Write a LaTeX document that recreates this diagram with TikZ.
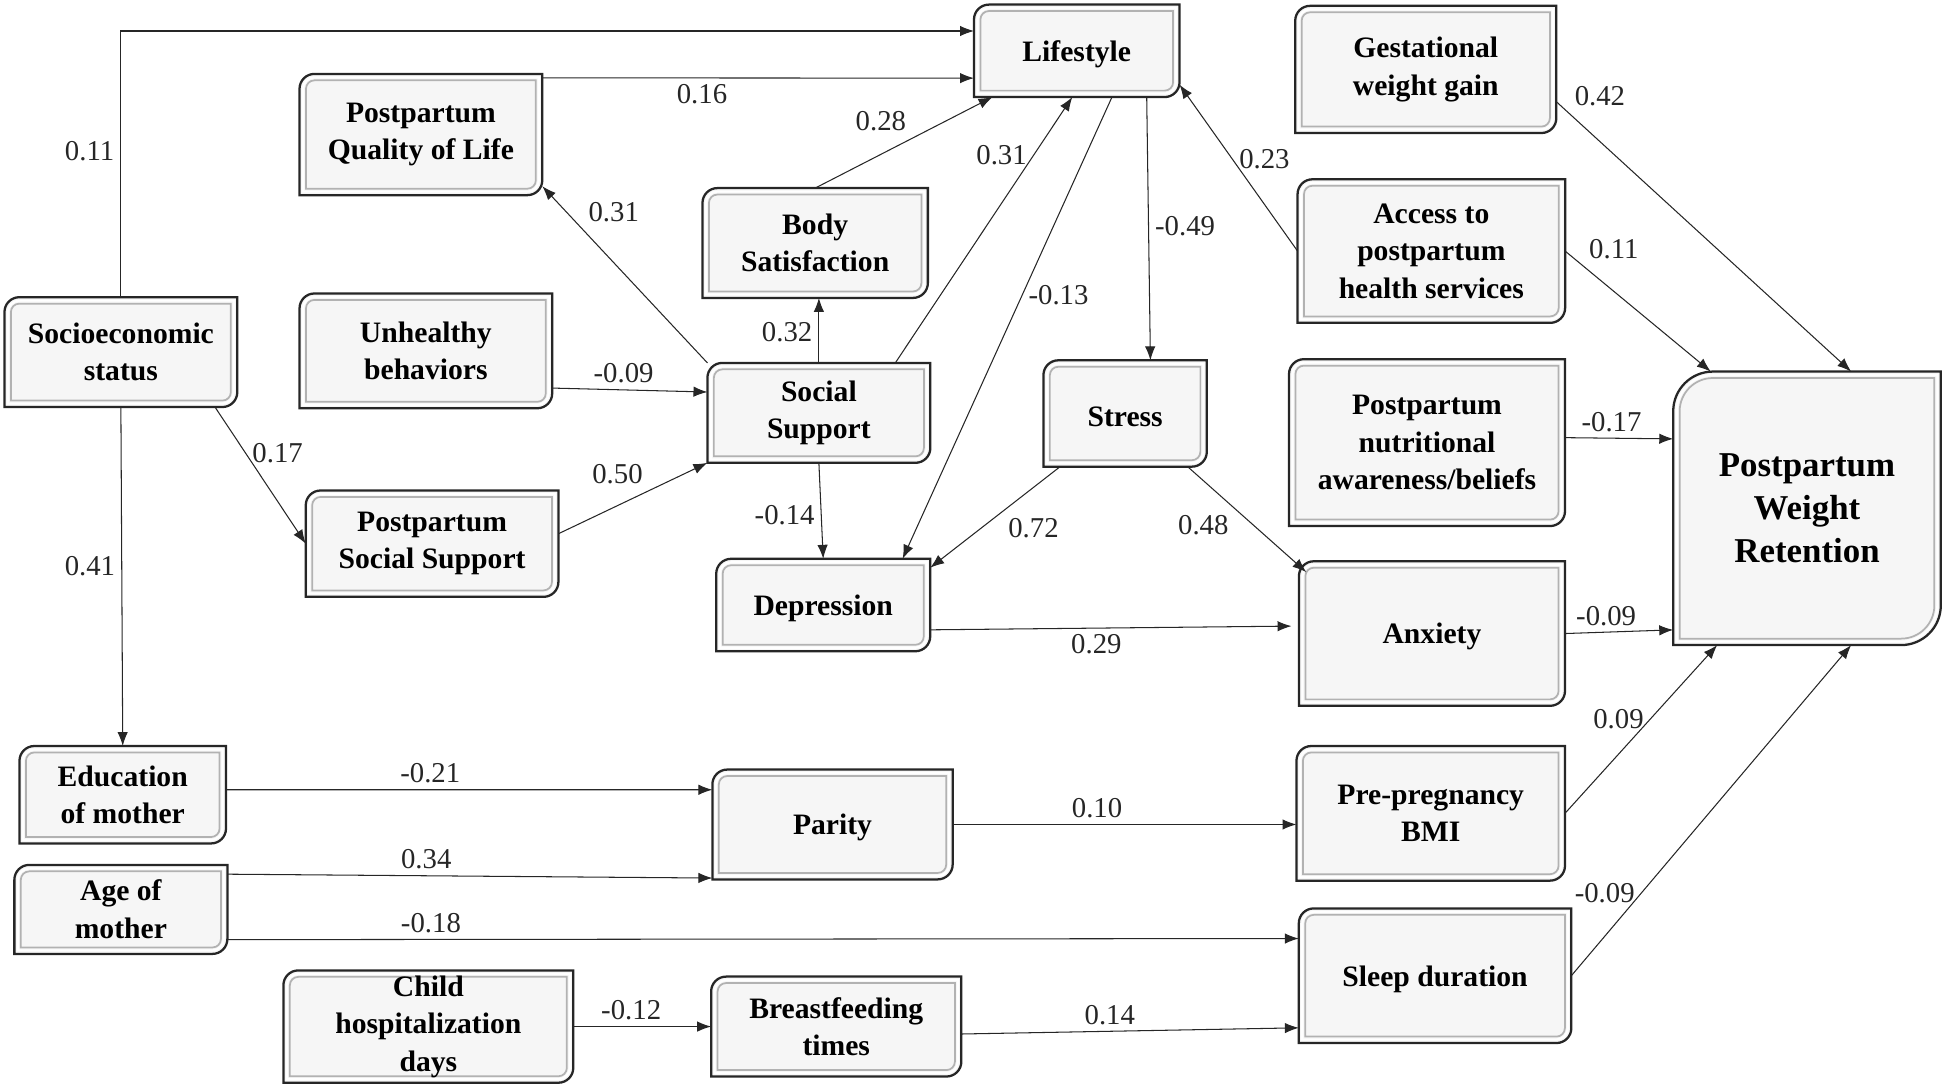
\documentclass[tikz,border=0pt]{standalone}
\usepackage{fontspec}
\setmainfont{Liberation Serif}
\usetikzlibrary{arrows.meta,backgrounds}

% box outline: sharp top-right/bottom-left, rounded top-left/bottom-right
\tikzset{
  bevel/.style n args={3}{insert path={
    ([shift={({-#2},{-#2})}]#1.north east) --
    ([shift={({-#2},{#2+(#3)})}]#1.south east) arc[start angle=0,end angle=-90,radius={#3}] --
    ([shift={({#2},{#2})}]#1.south west) --
    ([shift={({#2},{-#2-(#3)})}]#1.north west) arc[start angle=180,end angle=90,radius={#3}] -- cycle}}
}

\begin{document}
\begin{tikzpicture}[
  x=0.025cm, y=-0.025cm,
  >={Latex[length=8pt,width=6pt]},   % default arrow tip
  varbox/.style={align=center, inner sep=2pt, font=\bfseries\fontsize{17}{21.5}\selectfont,
                 execute at begin node=\rule{0pt}{15.5pt}},
  lbl/.style={font=\fontsize{16.5}{19}\selectfont, inner sep=3.5pt},
  link/.style={->, line width=0.6pt, black!85}
]
\useasboundingbox (0,0) rectangle (1568,877);

% Nodes
\node[varbox, minimum width=4.13cm, minimum height=1.85cm] (life)   at (868.5,41)   {Lifestyle};
\node[varbox, minimum width=5.25cm, minimum height=2.55cm] (gwg)    at (1150,56)    {Gestational\\weight gain};
\node[varbox, minimum width=4.88cm, minimum height=2.43cm] (pqol)   at (339.5,108.5){Postpartum\\Quality of Life};
\node[varbox, minimum width=4.53cm, minimum height=2.2cm]  (body)   at (657.5,196)  {Body\\Satisfaction};
\node[varbox, minimum width=5.38cm, minimum height=2.88cm] (access) at (1154.5,202.5){Access to\\postpartum\\health services};
\node[varbox, minimum width=4.68cm, minimum height=2.2cm]  (ses)    at (97.5,284)   {Socioeconomic\\status};
\node[varbox, minimum width=5.08cm, minimum height=2.3cm]  (unh)    at (343.5,283)  {Unhealthy\\behaviors};
\node[varbox, minimum width=4.48cm, minimum height=2.0cm]  (ss)     at (660.5,333)  {Social\\Support};
\node[varbox, minimum width=3.28cm, minimum height=2.13cm] (stress) at (907.5,333.5){Stress};
\node[varbox, minimum width=5.55cm, minimum height=3.35cm] (nut)    at (1151,357)   {Postpartum\\nutritional\\awareness/beliefs};
\node[varbox, font=\bfseries\fontsize{20}{24.5}\selectfont,
      minimum width=5.38cm, minimum height=5.5cm]          (pwr)    at (1457.5,410) {Postpartum\\Weight\\Retention};
\node[varbox, minimum width=5.08cm, minimum height=2.13cm] (pss)    at (348.5,438.5){Postpartum\\Social Support};
\node[varbox, minimum width=4.3cm,  minimum height=1.85cm] (dep)    at (664,488)    {Depression};
\node[varbox, minimum width=5.35cm, minimum height=2.9cm]  (anx)    at (1155,511)   {Anxiety};
\node[varbox, minimum width=4.15cm, minimum height=1.95cm] (edu)    at (99,641)     {Education\\of mother};
\node[varbox, minimum width=4.83cm, minimum height=2.2cm]  (par)    at (671.5,665)  {Parity};
\node[varbox, minimum width=5.4cm,  minimum height=2.7cm]  (bmi)    at (1154,656)   {Pre-pregnancy\\BMI};
\node[varbox, minimum width=4.28cm, minimum height=1.78cm] (age)    at (97.5,733.5) {Age of\\mother};
\node[varbox, minimum width=5.48cm, minimum height=2.7cm]  (sleep)  at (1157.5,787) {Sleep duration};
\node[varbox, minimum width=5.83cm, minimum height=2.25cm] (child)  at (345.5,828)  {Child\\hospitalization\\days};
\node[varbox, minimum width=5.03cm, minimum height=2.0cm]  (bf)     at (674.5,828)  {Breastfeeding\\times};

% Box outlines
\begin{scope}[on background layer]
\foreach \n/\r in {life/0.3cm, gwg/0.3cm, pqol/0.3cm, body/0.3cm, access/0.3cm, ses/0.3cm,
                   unh/0.3cm, ss/0.3cm, stress/0.3cm, nut/0.3cm, pwr/0.8cm, pss/0.3cm,
                   dep/0.3cm, anx/0.3cm, edu/0.3cm, par/0.3cm, bmi/0.3cm, age/0.3cm,
                   sleep/0.3cm, child/0.3cm, bf/0.3cm}
{
  \path[fill=gray!7, draw=black!85, line width=1.3pt, bevel={\n}{0cm}{\r}];
  \path[draw=white, line width=1.2pt, bevel={\n}{0.07cm}{\r-0.07cm}];
  \path[draw=gray!60, line width=1pt, bevel={\n}{0.13cm}{\r-0.13cm}];
}
\end{scope}

% Edges
\draw[link] (ses.north) |- node[lbl, pos=0.275, left]{0.11} ([yshift=0.4cm]life.west);
\draw[link] ([yshift=-0.08cm]pqol.north east) -- node[lbl, pos=0.37, below]{0.16} ([yshift=-0.55cm]life.west);
\draw[link] (body.north) -- node[lbl, pos=0.55, above left]{0.28} ([xshift=-1.7cm]life.south);
\draw[link] ([xshift=1.54cm]ss.north) -- node[lbl, pos=0.78, left]{0.31} ([xshift=-0.09cm]life.south);
\draw[link] ([xshift=0.71cm]life.south) -- node[lbl, pos=0.43, right]{-0.13} ([xshift=1.6cm]dep.north);
\draw[link] ([xshift=1.41cm]life.south) -- node[lbl, pos=0.49, right]{-0.49} ([xshift=0.51cm]stress.north);
\draw[link] (access.west) -- node[lbl, pos=0.55, right]{0.23} ([yshift=0.25cm]life.south east);
\draw[link] (ss.north west) -- node[lbl, pos=0.76, above right]{0.31} ([yshift=0.18cm]pqol.south east);
\draw[link] (ss.north) -- node[lbl, pos=0.47, left]{0.32} (ss.north |- body.south);
\draw[link] ([yshift=-0.75cm]unh.east) -- node[lbl, pos=0.46, above]{-0.09} ([yshift=0.42cm]ss.west);
\draw[link] ([yshift=0.2cm]pss.east) -- node[lbl, pos=0.61, above left]{0.50} (ss.south west);
\draw[link] ([xshift=-0.45cm]ses.south east) -- node[lbl, pos=0.34, right]{0.17} (pss.west);
\draw[link] (ses.south) -- node[lbl, pos=0.47, left]{0.41} (edu.north);
\draw[link] (ss.south) -- node[lbl, pos=0.54, left]{-0.14} (dep.north);
\draw[link] ([xshift=-1.31cm]stress.south) -- node[lbl, pos=0.45, below right]{0.72} ([yshift=-0.18cm]dep.north east);
\draw[link] ([xshift=1.26cm]stress.south) -- node[lbl, pos=0.4, below left]{0.48} ([shift={(0.15cm,-0.22cm)}]anx.north west);
\draw[link] ([yshift=-0.5cm]dep.east) -- node[lbl, pos=0.46, below]{0.29} ([shift={(-0.15cm,0.15cm)}]anx.west);
\draw[link] (anx.east) -- node[lbl, pos=0.38, above]{-0.09} ([yshift=-2.45cm]pwr.west);
\draw[link] ([yshift=0.1cm]nut.east) -- node[lbl, pos=0.43, above]{-0.17} ([yshift=1.4cm]pwr.west);
\draw[link] (access.east) -- node[lbl, pos=0.12, above right]{0.11} ([xshift=-1.94cm]pwr.north);
\draw[link] ([yshift=-0.65cm]gwg.east) -- node[lbl, pos=0.04, above right]{0.42} ([xshift=0.89cm]pwr.north);
\draw[link] (bmi.east) -- node[lbl, pos=0.56, left]{0.09} ([xshift=-1.81cm]pwr.south);
\draw[link] (sleep.east) -- node[lbl, pos=0.25, left]{-0.09} ([xshift=0.89cm]pwr.south);
\draw[link] ([yshift=0.1cm]edu.east) -- node[lbl, pos=0.42, above]{-0.21} ([yshift=0.7cm]par.west);
\draw[link] ([yshift=0.71cm]age.east) -- node[lbl, pos=0.41, above]{0.34} ([yshift=-1.08cm]par.west);
\draw[link] ([yshift=-0.61cm]age.east) -- node[lbl, pos=0.19, above]{-0.18} ([yshift=0.75cm]sleep.west);
\draw[link] (par.east) -- node[lbl, pos=0.42, above]{0.10} (par.east -| bmi.west);
\draw[link] (child.east) -- node[lbl, pos=0.42, above]{-0.12} (bf.west);
\draw[link] ([yshift=-0.15cm]bf.east) -- node[lbl, pos=0.44, above]{0.14} ([yshift=-1.05cm]sleep.west);
\end{tikzpicture}
\end{document}
